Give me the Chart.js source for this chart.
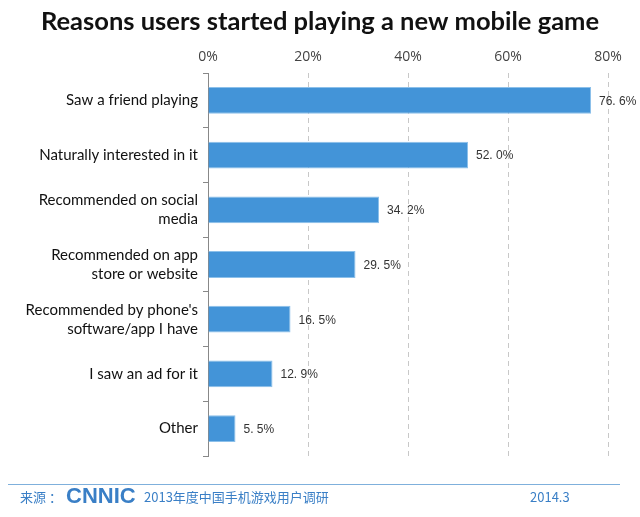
<!DOCTYPE html>
<html><head><meta charset="utf-8">
<script src="https://cdn.jsdelivr.net/npm/chart.js@4"></script>
<style>html,body{margin:0;padding:0;background:#fff}canvas{display:block}</style>
</head><body>
<canvas id="c" width="640" height="517"></canvas>
<script>
const categories = [
  "Saw a friend playing",
  "Naturally interested in it",
  ["Recommended on social", "media"],
  ["Recommended on app", "store or website"],
  ["Recommended by phone's", "software/app I have"],
  "I saw an ad for it",
  "Other"
];
const values = [76.6, 52.0, 34.2, 29.5, 16.5, 12.9, 5.5];
const valueLabels = ["76. 6%", "52. 0%", "34. 2%", "29. 5%", "16. 5%", "12. 9%", "5. 5%"];
const tickValues = [0, 20, 40, 60, 80];
const titleText = "Reasons users started playing a new mobile game";
const sourceLabel = "来源 ：";
const sourceLogo = "CNNIC";
const sourceText = "2013年度中国手机游戏用户调研";
const dateText = "2014.3";

const decor = {
  id: 'decor',
  afterDraw(chart) {
    const ctx = chart.ctx;
    ctx.save();
    // title
    ctx.fillStyle = '#111';
    ctx.font = 'bold 25.5px Lato, "Open Sans", sans-serif';
    ctx.textAlign = 'center';
    ctx.textBaseline = 'middle';
    ctx.fillText(titleText, 320, 22);
    // value labels
    const meta = chart.getDatasetMeta(0);
    ctx.font = '12px "Liberation Sans", sans-serif';
    ctx.fillStyle = '#333';
    ctx.textAlign = 'left';
    meta.data.forEach((bar, i) => {
      ctx.fillText(valueLabels[i], bar.x + 8, bar.y + 1);
    });
    // footer line
    ctx.strokeStyle = '#7fb0dc';
    ctx.lineWidth = 1;
    ctx.beginPath();
    ctx.moveTo(8, 484.5);
    ctx.lineTo(620, 484.5);
    ctx.stroke();
    // footer text
    ctx.fillStyle = '#3a7fc6';
    ctx.font = '13px "Noto Sans CJK SC", sans-serif';
    ctx.textBaseline = 'middle';
    ctx.fillText(sourceLabel, 20, 497);
    ctx.font = 'bold 22px "Liberation Sans", sans-serif';
    ctx.fillText(sourceLogo, 66, 497);
    ctx.font = '13px "Noto Sans CJK SC", sans-serif';
    ctx.fillText(sourceText, 144, 497);
    ctx.fillText(dateText, 530, 497);
    ctx.restore();
  }
};

new Chart(document.getElementById('c'), {
  type: 'bar',
  data: {
    labels: categories,
    datasets: [{
      data: values,
      backgroundColor: '#4394d8',
      borderColor: '#8cc0ea',
      borderWidth: 1,
      barPercentage: 0.98,
      categoryPercentage: 0.5
    }]
  },
  options: {
    indexAxis: 'y',
    responsive: false,
    animation: false,
    layout: { padding: { top: 35, right: 32, bottom: 61, left: 0 } },
    plugins: { legend: { display: false }, tooltip: { enabled: false } },
    scales: {
      x: {
        position: 'top',
        min: 0, max: 80,
        afterBuildTicks(s) { s.ticks = tickValues.map(v => ({ value: v })); },
        afterFit(s) { s.height = 38; },
        ticks: {
          padding: 8,
          color: '#444',
          font: { family: '"Open Sans", sans-serif', size: 14 },
          callback: v => v + '%'
        },
        grid: {
          drawTicks: false,
          color: ctx => ctx.tick && ctx.tick.value === 0 ? 'rgba(0,0,0,0)' : '#c8c8c8',
          lineWidth: 1
        },
        border: { display: false, dash: [5, 4] }
      },
      y: {
        afterFit(s) { s.width = 208; },
        ticks: {
          padding: 5,
          color: '#111',
          font: { family: 'Lato, "Open Sans", sans-serif', size: 15, lineHeight: 1.27 }
        },
        grid: {
          offset: true,
          drawOnChartArea: false,
          drawTicks: true,
          tickLength: 5,
          color: '#888'
        },
        border: { display: true, color: '#888', width: 1 }
      }
    }
  },
  plugins: [decor]
});
</script>
</body></html>
